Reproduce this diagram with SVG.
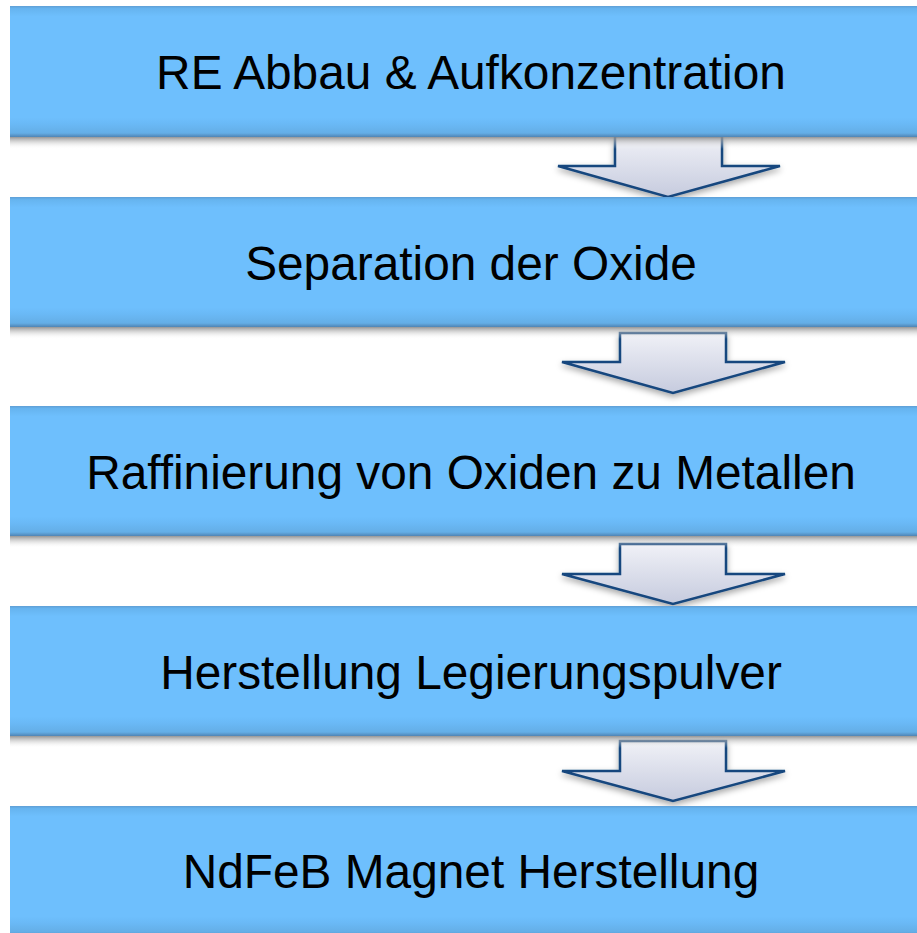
<svg xmlns="http://www.w3.org/2000/svg" width="917" height="933" viewBox="0 0 917 933">
<defs>
<linearGradient id="boxFill" x1="0" y1="0" x2="0" y2="1">
<stop offset="0" stop-color="#5f9fd6"/>
<stop offset="0.02" stop-color="#66b4ef"/>
<stop offset="0.08" stop-color="#6ebffd"/>
<stop offset="0.85" stop-color="#6ebffd"/>
<stop offset="0.9" stop-color="#6ab9f6"/>
<stop offset="0.97" stop-color="#64aee6"/>
<stop offset="1" stop-color="#4f84b4"/>
</linearGradient>
<linearGradient id="shadow" x1="0" y1="0" x2="0" y2="1">
<stop offset="0" stop-color="#8a8a8a" stop-opacity="0.9"/>
<stop offset="1" stop-color="#ffffff" stop-opacity="0"/>
</linearGradient>
<linearGradient id="arrowFill" x1="0" y1="0" x2="0" y2="1">
<stop offset="0" stop-color="#f0f1f7"/>
<stop offset="1" stop-color="#c6cbde"/>
</linearGradient>
<filter id="ds" x="-20%" y="-20%" width="140%" height="160%">
<feDropShadow dx="0" dy="3" stdDeviation="3" flood-color="#000" flood-opacity="0.35"/>
</filter>
<style>
.box{fill:url(#boxFill);}
.sh{fill:url(#shadow);}
.lbl{font-family:"Liberation Sans",Arial,sans-serif;font-size:47.8px;fill:#000;text-anchor:middle;}
.arr{fill:url(#arrowFill);stroke:#17477e;stroke-width:2.5;stroke-linejoin:miter;filter:url(#ds);}
</style>
</defs>
<rect width="917" height="933" fill="#fff"/>
<g id="connectors">
<polygon class="arr" points="615,136 722,136 722,166 780,166 668,197 558,166 615,166"/>
<polygon class="arr" points="620,333 726,333 726,362 785,362 673,393 562,362 620,362"/>
<polygon class="arr" points="620,544 726,544 726,574 785,574 673,604 562,574 620,574"/>
<polygon class="arr" points="620,741 726,741 726,771 785,771 673,801 562,771 620,771"/>
</g>
<g id="n1">
<rect class="sh" x="10" y="137" width="922" height="12"/>
<rect class="box" x="10" y="6" width="922" height="131"/>
<text class="lbl" x="471" y="89">RE Abbau &amp; Aufkonzentration</text>
</g>
<g id="n2">
<rect class="sh" x="10" y="327" width="922" height="12"/>
<rect class="box" x="10" y="197" width="922" height="130"/>
<text class="lbl" x="471" y="280">Separation der Oxide</text>
</g>
<g id="n3">
<rect class="sh" x="10" y="536" width="922" height="12"/>
<rect class="box" x="10" y="406" width="922" height="130"/>
<text class="lbl" x="471" y="489">Raffinierung von Oxiden zu Metallen</text>
</g>
<g id="n4">
<rect class="sh" x="10" y="736" width="922" height="12"/>
<rect class="box" x="10" y="606" width="922" height="130"/>
<text class="lbl" x="471" y="689">Herstellung Legierungspulver</text>
</g>
<g id="n5">
<rect class="box" x="10" y="806" width="922" height="130"/>
<text class="lbl" x="471" y="888">NdFeB Magnet Herstellung</text>
</g>
</svg>
